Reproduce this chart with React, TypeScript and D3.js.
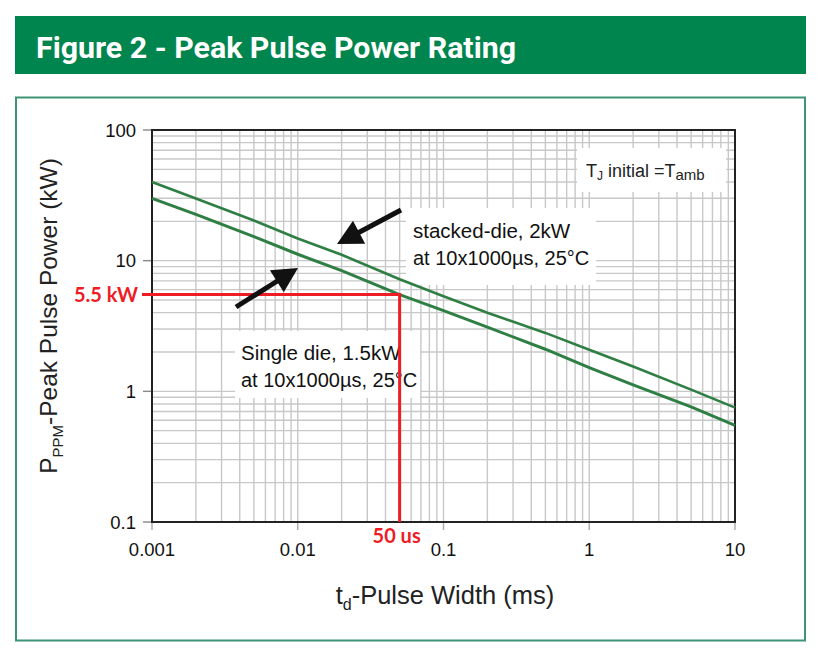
import React from "react";
import * as d3 from "d3";

// ---- data ----
const pulseWidthMs = [0.001, 0.002, 0.005, 0.01, 0.02, 0.05, 0.1, 0.2, 0.5, 1, 2, 5, 10];
const stackedDieKW = [40, 29.9, 20.3, 14.8, 11.1, 7.2, 5.35, 4.0, 2.8, 2.08, 1.55, 1.03, 0.75];
const singleDieKW = [30, 22.6, 15.3, 11.2, 8.4, 5.5, 4.15, 3.1, 2.1, 1.52, 1.12, 0.76, 0.55];
const xTicks = [0.001, 0.01, 0.1, 1, 10];
const xTickLabels = ["0.001", "0.01", "0.1", "1", "10"];
const yTicks = [0.1, 1, 10, 100];
const yTickLabels = ["0.1", "1", "10", "100"];
const markerPowerKW = 5.5;
const markerWidthMs = 0.05;

const W = 826;
const H = 665;
const plot = { left: 152, right: 735, top: 130, bottom: 522 };
const GREEN = "#00854f";
const CURVE = "#2f7f45";
const RED = "#ee1c25";
const GRID = "#c8c8c8";
const SANS = "'Liberation Sans', Arial, sans-serif";

function minorValues(lo: number, hi: number) {
  const out: number[] = [];
  for (let d = lo; d < hi * 0.999; d *= 10) {
    for (let k = 1; k <= 9; k++) out.push(d * k);
  }
  out.push(hi);
  return out;
}

function Arrow({ tail, tip }: { tail: [number, number]; tip: [number, number] }) {
  const dx = tip[0] - tail[0];
  const dy = tip[1] - tail[1];
  const len = Math.hypot(dx, dy);
  const ux = dx / len;
  const uy = dy / len;
  const hl = 25;
  const hw = 13;
  const bx = tip[0] - ux * hl;
  const by = tip[1] - uy * hl;
  const pts = [
    [tip[0], tip[1]],
    [bx - uy * hw, by + ux * hw],
    [bx + uy * hw, by - ux * hw],
  ];
  return (
    <g>
      <line x1={tail[0]} y1={tail[1]} x2={bx + ux * 2} y2={by + uy * 2} stroke="#111" strokeWidth={5} />
      <polygon points={pts.map((p) => p.join(",")).join(" ")} fill="#111" />
    </g>
  );
}

export default function App() {
  const x = d3.scaleLog().domain([0.001, 10]).range([plot.left, plot.right]);
  const y = d3.scaleLog().domain([0.1, 100]).range([plot.bottom, plot.top]);
  const xGrid = minorValues(0.001, 10);
  const yGrid = minorValues(0.1, 100);
  const line = d3
    .line<[number, number]>()
    .x((d) => x(d[0]))
    .y((d) => y(d[1]));
  const stacked = pulseWidthMs.map((t, i) => [t, stackedDieKW[i]] as [number, number]);
  const single = pulseWidthMs.map((t, i) => [t, singleDieKW[i]] as [number, number]);
  const mx = x(markerWidthMs);
  const my = y(markerPowerKW);

  return (
    <svg width={W} height={H} style={{ position: "absolute", left: 0, top: 0, background: "#fff" }}>
      {/* title bar */}
      <rect x={15} y={16} width={791} height={58} fill={GREEN} />
      <text
        x={36}
        y={58}
        fill="#fff"
        fontFamily="Roboto, 'Liberation Sans', sans-serif"
        fontWeight={700}
        fontSize={29}
        textLength={480}
        lengthAdjust="spacingAndGlyphs"
      >
        Figure 2 - Peak Pulse Power Rating
      </text>
      {/* frame */}
      <rect x={16} y={97.5} width={789} height={543} fill="none" stroke="#3d9474" strokeWidth={2} />

      {/* grid */}
      {xGrid.map((v, i) => (
        <line key={"gx" + i} x1={x(v)} x2={x(v)} y1={plot.top} y2={plot.bottom} stroke={GRID} strokeWidth={1.4} />
      ))}
      {yGrid.map((v, i) => (
        <line key={"gy" + i} x1={plot.left} x2={plot.right} y1={y(v)} y2={y(v)} stroke={GRID} strokeWidth={1.4} />
      ))}
      {/* ticks */}
      {xTicks.map((v, i) => (
        <line key={"tx" + i} x1={x(v)} x2={x(v)} y1={plot.bottom} y2={plot.bottom + 8} stroke="#aaa" strokeWidth={1.4} />
      ))}
      {yTicks.map((v, i) => (
        <line key={"ty" + i} x1={plot.left - 9} x2={plot.left} y1={y(v)} y2={y(v)} stroke="#888" strokeWidth={1.4} />
      ))}
      {/* plot frame */}
      <rect
        x={plot.left}
        y={plot.top}
        width={plot.right - plot.left}
        height={plot.bottom - plot.top}
        fill="none"
        stroke="#222"
        strokeWidth={2}
      />

      {/* annotation boxes */}
      <rect x={577} y={148} width={149} height={44} fill="#fff" />
      <rect x={406} y={208} width={190} height={77} fill="#fff" />
      <rect x={235} y={331} width={185} height={67} fill="#fff" />

      <text x={586} y={177} fontFamily={SANS} fontSize={18} fill="#222">
        T<tspan fontSize={12} dy={3}>J</tspan>
        <tspan dy={-3}> initial =T</tspan>
        <tspan fontSize={15} dy={3}>amb</tspan>
      </text>
      <text x={413} y={238} fontFamily={SANS} fontSize={20.5} fill="#111">
        stacked-die, 2kW
      </text>
      <text x={413} y={265} fontFamily={SANS} fontSize={20} fill="#111">
        at 10x1000µs, 25°C
      </text>
      <text x={241} y={360} fontFamily={SANS} fontSize={20.5} fill="#111">
        Single die, 1.5kW
      </text>
      <text x={241} y={387} fontFamily={SANS} fontSize={20} fill="#111">
        at 10x1000µs, 25°C
      </text>

      {/* curves */}
      <path d={line(stacked) || ""} fill="none" stroke={CURVE} strokeWidth={2.6} />
      <path d={line(single) || ""} fill="none" stroke={CURVE} strokeWidth={3} />

      {/* red markers */}
      <line x1={142} x2={mx + 1.5} y1={my} y2={my} stroke={RED} strokeWidth={3} />
      <line x1={mx} x2={mx} y1={my} y2={plot.bottom} stroke={RED} strokeWidth={3} />
      <text x={138} y={my + 7} textAnchor="end" fontFamily="Lato, sans-serif" fontWeight={700} fontSize={20} fill={RED}>
        5.5 kW
      </text>
      <text x={mx - 3} y={543} textAnchor="middle" fontFamily="Lato, sans-serif" fontWeight={700} fontSize={20} fill={RED}>
        50 us
      </text>

      {/* arrows */}
      <Arrow tail={[401, 210]} tip={[337, 244]} />
      <Arrow tail={[236, 307]} tip={[298, 268]} />

      {/* tick labels */}
      {xTicks.map((v, i) => (
        <text key={"lx" + i} x={x(v)} y={556} textAnchor="middle" fontFamily={SANS} fontSize={18.5} fill="#111">
          {xTickLabels[i]}
        </text>
      ))}
      {yTicks.map((v, i) => (
        <text key={"ly" + i} x={136} y={y(v) + 6.5} textAnchor="end" fontFamily={SANS} fontSize={18.5} fill="#111">
          {yTickLabels[i]}
        </text>
      ))}

      {/* axis titles */}
      <text x={445} y={604} textAnchor="middle" fontFamily={SANS} fontSize={25.5} fill="#222">
        t<tspan fontSize={16} dy={6}>d</tspan>
        <tspan dy={-6}>-Pulse Width (ms)</tspan>
      </text>
      <text
        transform="translate(57,316) rotate(-90)"
        textAnchor="middle"
        fontFamily={SANS}
        fontSize={24.5}
        fill="#222"
      >
        P<tspan fontSize={15} dy={6}>PPM</tspan>
        <tspan dy={-6}>-Peak Pulse Power (kW)</tspan>
      </text>
    </svg>
  );
}
